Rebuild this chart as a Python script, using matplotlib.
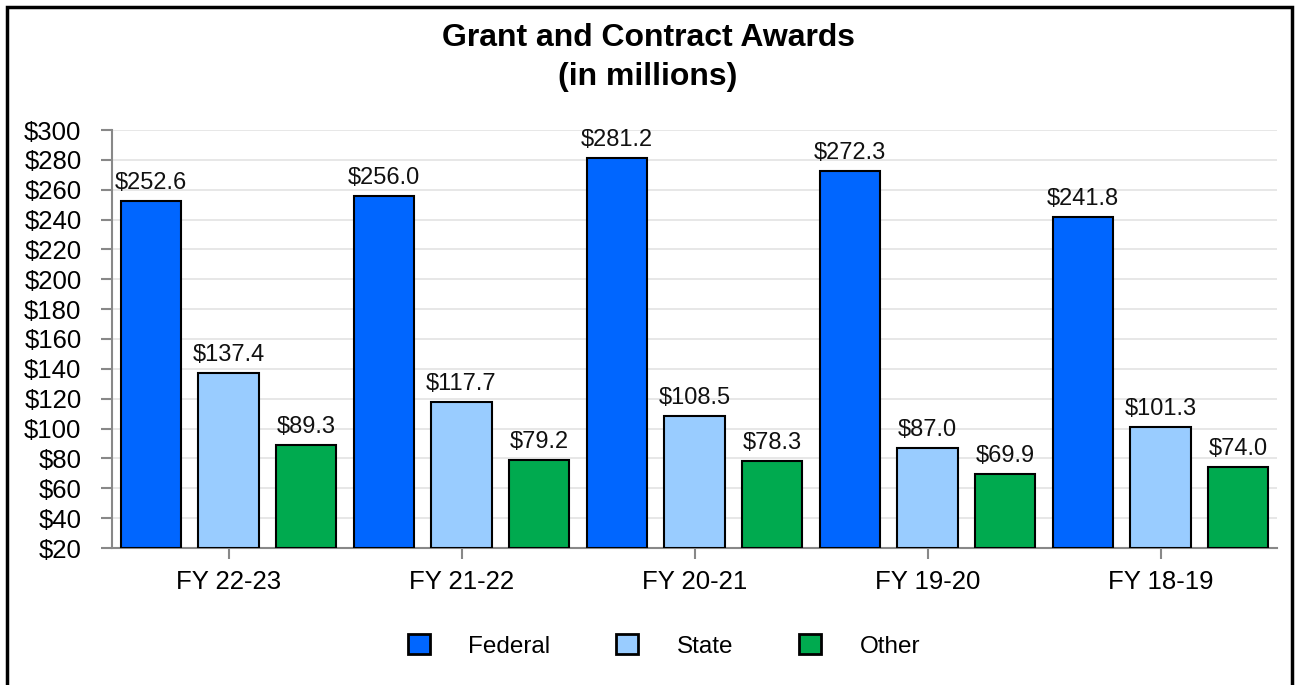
import matplotlib
matplotlib.use("Agg")
import matplotlib.pyplot as plt
import numpy as np
from matplotlib.patches import Rectangle

plt.rcParams['font.family'] = ['Liberation Sans', 'DejaVu Sans']

# Data
years = ["FY 22-23", "FY 21-22", "FY 20-21", "FY 19-20", "FY 18-19"]
federal = [252.6, 256.0, 281.2, 272.3, 241.8]
state = [137.4, 117.7, 108.5, 87.0, 101.3]
other = [89.3, 79.2, 78.3, 69.9, 74.0]
series_names = ["Federal", "State", "Other"]
series_colors = ["#0066FF", "#99CCFF", "#00AA4F"]

fig = plt.figure(figsize=(12.96, 6.85), dpi=100)
ax = fig.add_axes([112 / 1296, 137 / 685, 1165 / 1296, 418 / 685])

x = np.arange(len(years))
bar_w = 0.26
offset = 0.333
handles = []
for i, (vals, name, color) in enumerate(zip([federal, state, other], series_names, series_colors)):
    bars = ax.bar(x + (i - 1) * offset, np.array(vals) - 20, bottom=20, width=bar_w,
                  color=color, edgecolor='black', linewidth=1.5, label=name, zorder=3)
    handles.append(bars)
    for xi, v in zip(x + (i - 1) * offset, vals):
        ax.annotate(f"${v:.1f}", (xi, v), xytext=(0, 5), textcoords='offset points',
                    ha='center', va='bottom', fontsize=17, color='#111111')

ax.set_xlim(-0.5, len(years) - 0.5)
ax.set_ylim(20, 300)
ax.set_yticks(range(20, 301, 20))
ax.set_yticklabels([f"${t}" for t in range(20, 301, 20)], fontsize=18.5)
ax.set_xticks(x)
ax.set_xticklabels(years, fontsize=18.5)
ax.tick_params(axis='y', length=8, width=1.5, color='#888888', pad=14)
ax.tick_params(axis='x', length=8, width=1.5, color='#888888', pad=8)
ax.grid(axis='y', color='#e3e3e3', linewidth=1.2, zorder=0)
ax.set_axisbelow(True)
for s in ['top', 'right']:
    ax.spines[s].set_visible(False)
for s in ['left', 'bottom']:
    ax.spines[s].set_color('#888888')
    ax.spines[s].set_linewidth(1.5)

fig.text(0.5, 1 - 38 / 685, "Grant and Contract Awards", ha='center', va='center',
         fontsize=23, fontweight='bold')
fig.text(0.5, 1 - 77 / 685, "(in millions)", ha='center', va='center',
         fontsize=23, fontweight='bold')

leg = fig.legend(handles=handles, labels=series_names, loc='center', ncol=3,
                 bbox_to_anchor=(664 / 1296, 1 - 646 / 685), frameon=False, fontsize=17.5,
                 handlelength=0.9, handleheight=0.9, handletextpad=1.6, columnspacing=2.7)
for h in leg.legend_handles:
    h.set_linewidth(2)

# outer border
fig.add_artist(Rectangle((7 / 1296, -0.05), 1285 / 1296, 1.05 - 7 / 685, transform=fig.transFigure,
                         fill=False, edgecolor='black', linewidth=2.5))

fig.savefig("out.png", dpi=100)
